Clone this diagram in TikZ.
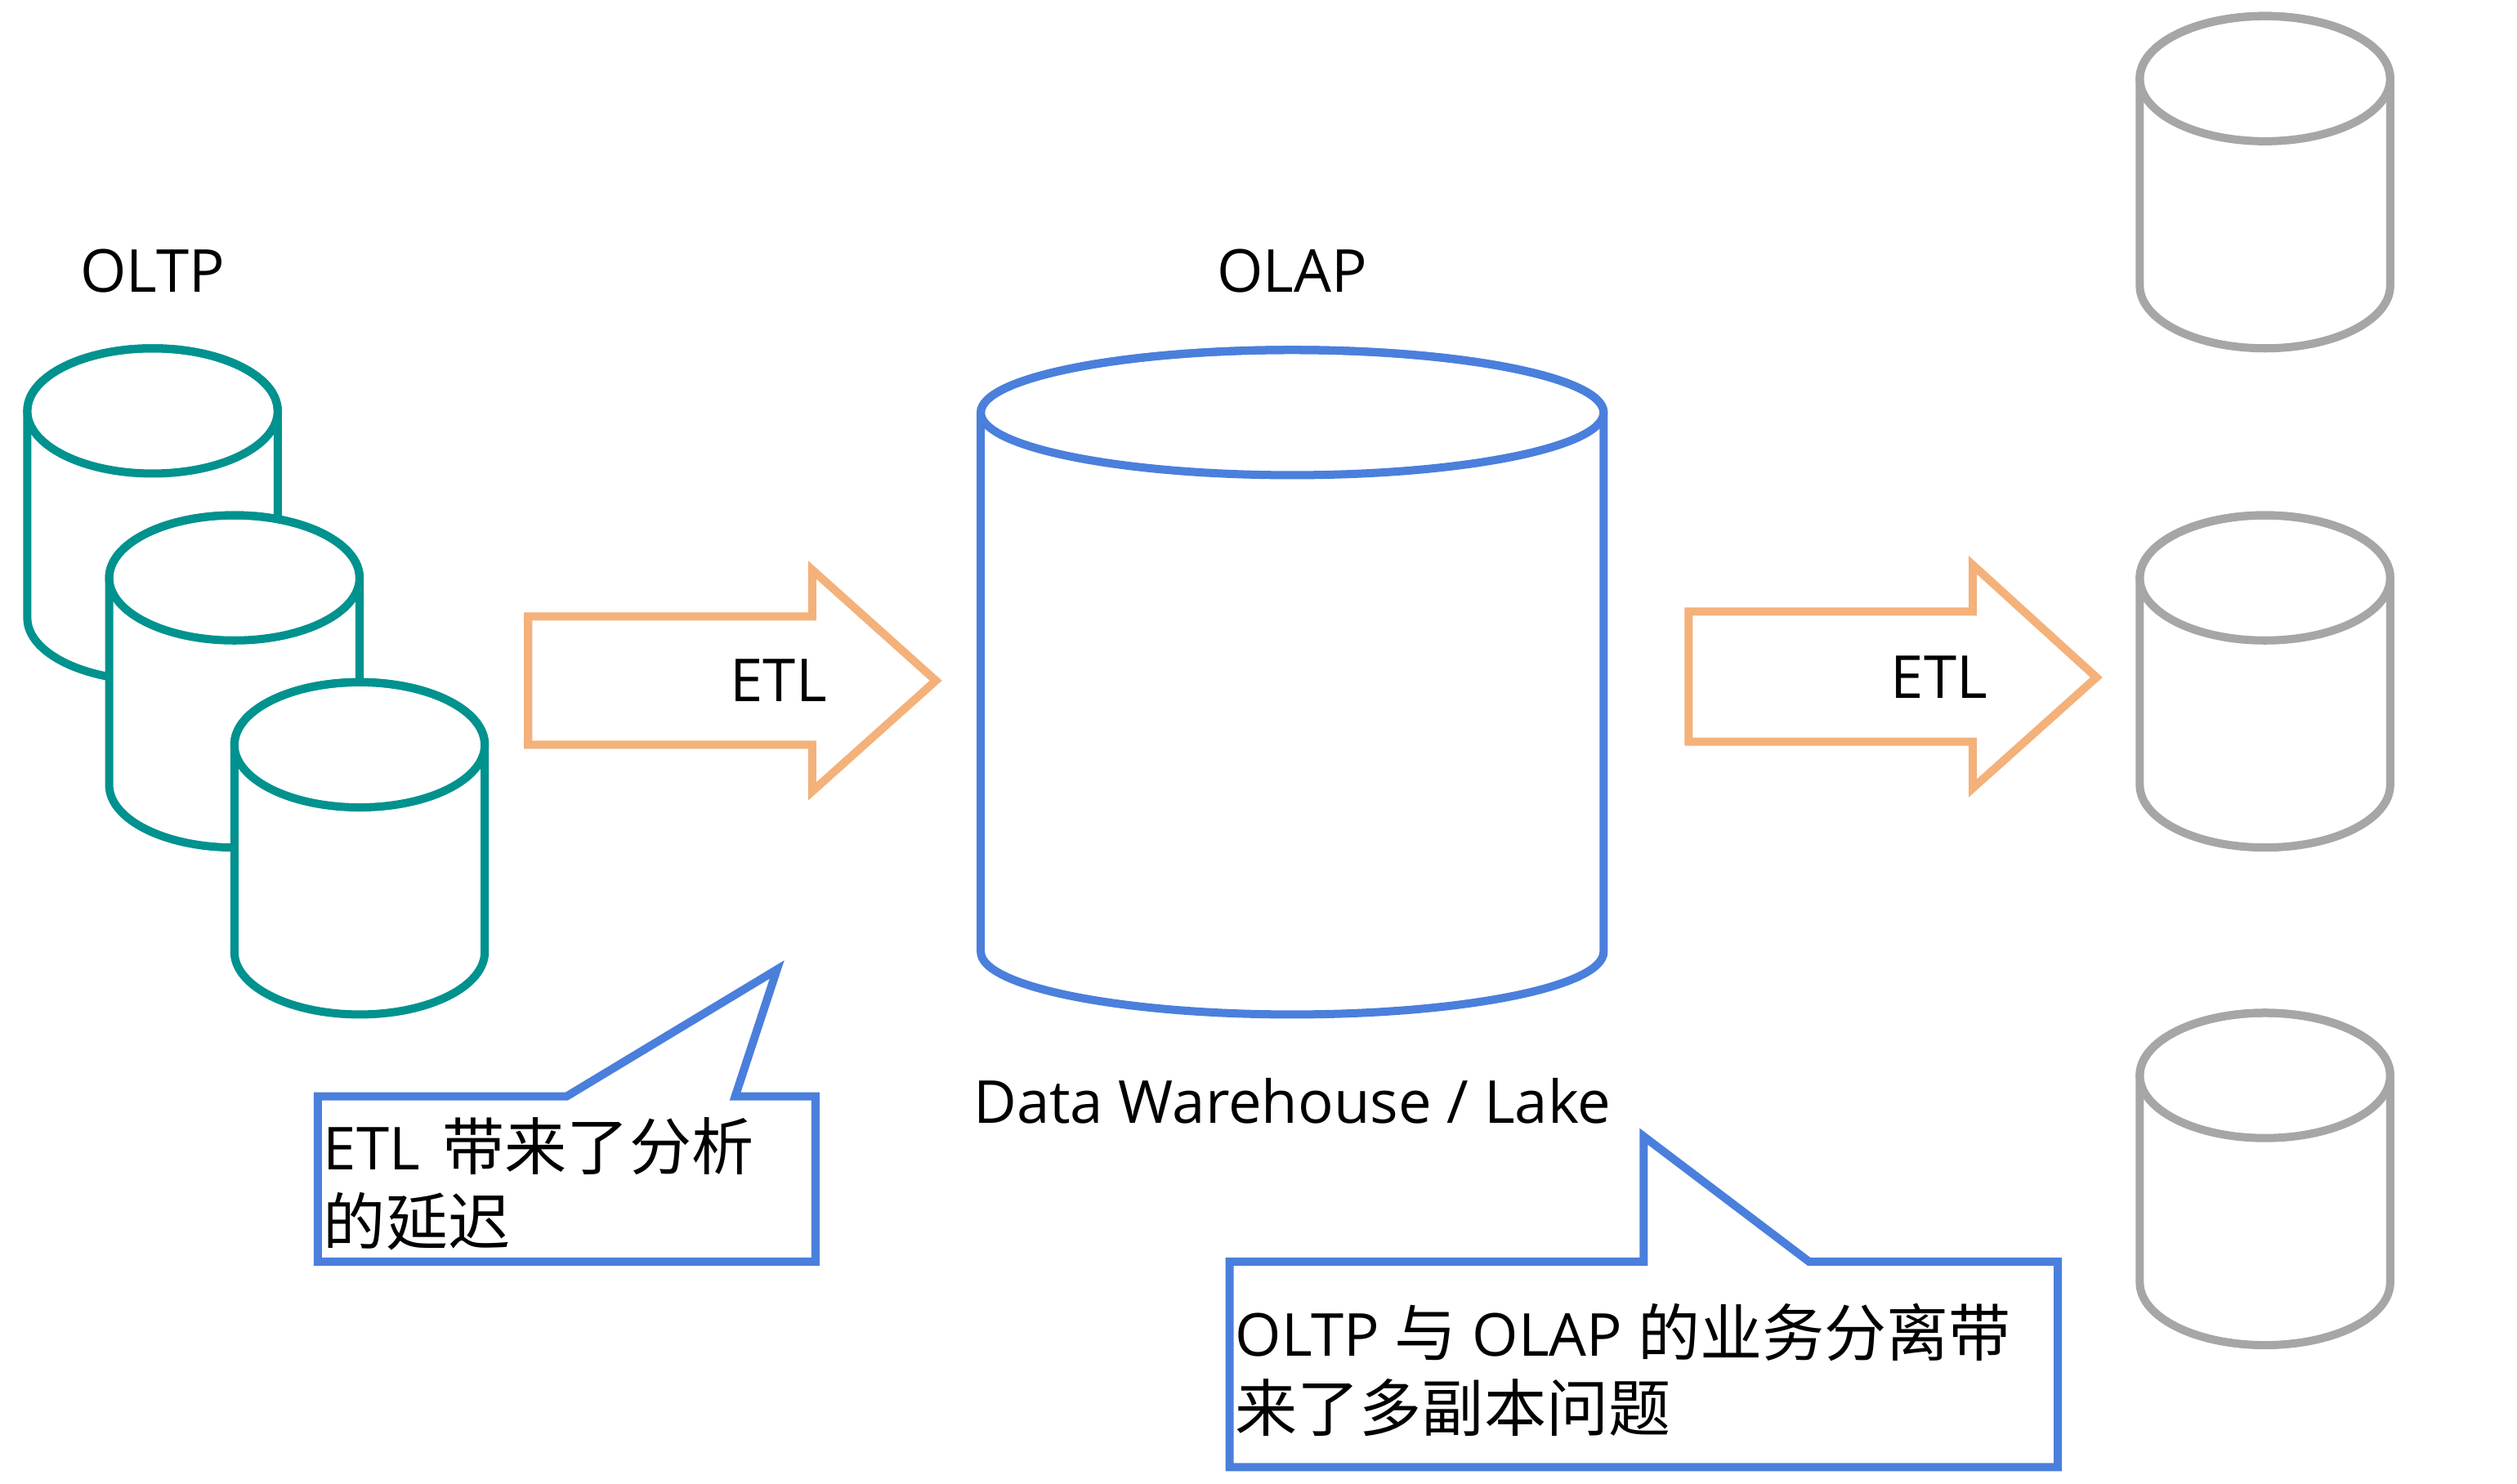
\documentclass[tikz,border=0pt]{standalone}
\usepackage{fontspec}
\setmainfont{Open Sans}
\newfontfamily\cjk{Noto Sans CJK SC}[Scale=1.05]
\definecolor{tealc}{HTML}{00928E}
\definecolor{bluec}{HTML}{4A7FDC}
\definecolor{orangec}{HTML}{F4B17A}
\definecolor{greyc}{HTML}{A6A6A6}
% centre x, centre y of the lid, half width, body height, colour
\newcommand{\dbcyl}[5]{
    \draw[#5,fill=white] (#1-#3,#2) -- (#1-#3,#2-#4) arc (180:360:#3 and 39) -- (#1+#3,#2) arc (0:180:#3 and 39);
    \draw[#5] (#1,#2) ellipse (#3 and 39);
}
\tikzset{
    lbl/.style={inner sep=0pt,font=\fontsize{10.5}{13}\selectfont},
    note/.style={lbl,anchor=west},
    etlarrow/.style={draw=orangec,fill=white,line join=miter},
    callout/.style={draw=bluec,fill=white,line join=miter}
}
\begin{document}
\begin{tikzpicture}[x=0.1mm,y=0.1mm,line width=1.45pt]
    \useasboundingbox (0,-4.5) rectangle (1568,920);
    \dbcyl{95}{664}{78}{129}{tealc}
    \dbcyl{146}{560}{78}{129}{tealc}
    \dbcyl{224}{456}{78}{129}{tealc}
    \dbcyl{805}{663}{194}{336}{bluec}
    \dbcyl{1411}{871}{78}{129}{greyc}
    \dbcyl{1411}{560}{78}{129}{greyc}
    \dbcyl{1411}{250}{78}{129}{greyc}
    \draw[etlarrow] (329,536) -- (506,536) -- (506,565) -- (583,496) -- (506,427) -- (506,456) -- (329,456) -- cycle;
    \draw[etlarrow] (1052,539) -- (1229,539) -- (1229,568) -- (1306,498) -- (1229,429) -- (1229,458) -- (1052,458) -- cycle;
    \draw[callout] (198,237) -- (353,237) -- (484,316) -- (458,237) -- (508,237) -- (508,134) -- (198,134) -- cycle;
    \draw[callout] (766,134) -- (1024,134) -- (1024,212) -- (1127,134) -- (1282,134) -- (1282,6) -- (766,6) -- cycle;
    \node[lbl] (oltp) at (95,751) {OLTP};
    \node[lbl] (olap) at (805,751) {OLAP};
    \node[lbl] (etla) at (485,496) {ETL};
    \node[lbl] (etlb) at (1208,498) {ETL};
    \node[lbl] (dwh) at (805,234) {Data Warehouse / Lake};
    \node[note] (delaya) at (199,206) {ETL\hspace{1.3pt} {\cjk 带来了分析}};
    \node[note] (delayb) at (199,159) {\cjk 的延迟};
    \node[note] (splita) at (767,90) {OLTP {\cjk 与} OLAP {\cjk 的业务分离带}};
    \node[note] (splitb) at (767,43) {\cjk 来了多副本问题};
\end{tikzpicture}
\end{document}
